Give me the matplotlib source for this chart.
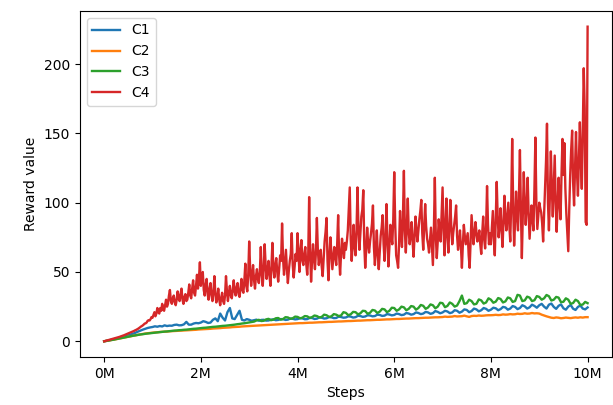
import numpy as np
import matplotlib
matplotlib.use("Agg")
import matplotlib.pyplot as plt

# rewards; steps in millions (0.05M apart for C1-C3, 0.02M for C4)
c1 = [0, 0.3, 0.7, 1.1, 1.5, 1.9, 2.3, 2.7, 3.2, 3.7,
      4.3, 4.9, 5.5, 6.2, 7.0, 7.7, 8.4, 9.0, 9.6, 10.0,
      10.3, 10.8, 10.5, 11.0, 10.7, 11.5, 11.0, 11.3, 11.2, 11.8,
      12.0, 11.5, 11.6, 12.2, 14.0, 12.0, 12.0, 12.8, 13.2, 13.0,
      13.5, 14.5, 14.0, 13.2, 13.5, 15.5, 16.5, 14.5, 20.0, 17.0,
      15.0, 21.0, 24.0, 16.5, 16.0, 19.0, 22.0, 15.5, 15.0, 16.0,
      15.5, 14.8, 15.2, 15.6, 14.8, 15.4, 15.5, 14.9, 15.0, 15.6,
      15.8, 15.2, 15.4, 16.0, 16.0, 15.4, 15.6, 16.4, 16.2, 15.8,
      16.0, 16.6, 16.5, 15.9, 16.0, 16.8, 16.8, 16.1, 16.3, 17.2,
      17.0, 16.4, 16.6, 17.4, 17.3, 16.7, 16.8, 17.8, 17.5, 17.0,
      17.2, 18.0, 17.8, 17.1, 17.4, 18.4, 18.2, 17.6, 17.9, 18.8,
      18.6, 18.0, 18.2, 19.2, 19.0, 18.3, 18.5, 19.6, 19.3, 18.7,
      19.0, 20.0, 19.6, 18.9, 19.2, 20.4, 20.0, 19.2, 19.6, 20.8,
      20.4, 19.6, 20.0, 21.2, 20.8, 19.8, 20.3, 21.8, 21.2, 20.2,
      20.8, 22.0, 21.5, 20.3, 20.8, 22.4, 22.0, 20.6, 21.4, 23.0,
      22.6, 21.0, 21.8, 23.6, 23.0, 21.6, 22.4, 24.0, 23.4, 22.0,
      22.8, 24.2, 23.8, 22.4, 23.2, 24.8, 24.4, 22.8, 23.6, 25.4,
      24.8, 23.2, 24.0, 26.0, 25.2, 23.6, 24.5, 26.4, 25.5, 24.2,
      26.0, 27.0, 25.0, 23.6, 26.4, 27.2, 24.8, 23.4, 25.6, 26.6,
      23.8, 22.8, 25.0, 26.2, 23.5, 22.6, 24.8, 25.8, 23.6, 23.0,
      24.4]

c2 = [0, 0.3, 0.6, 0.9, 1.2, 1.5, 1.9, 2.2, 2.6, 2.9,
      3.3, 3.6, 4.0, 4.3, 4.7, 5.0, 5.3, 5.6, 5.8, 6.0,
      6.2, 6.4, 6.5, 6.7, 6.8, 6.9, 7.0, 7.2, 7.3, 7.4,
      7.5, 7.6, 7.7, 7.8, 7.9, 8.0, 8.1, 8.2, 8.3, 8.5,
      8.6, 8.7, 8.8, 8.9, 9.0, 9.2, 9.3, 9.4, 9.5, 9.7,
      9.8, 9.9, 10.0, 10.2, 10.3, 10.4, 10.5, 10.7, 10.8, 10.9,
      11.0, 11.1, 11.2, 11.3, 11.4, 11.5, 11.6, 11.7, 11.8, 11.9,
      12.0, 12.1, 12.2, 12.3, 12.4, 12.5, 12.6, 12.7, 12.8, 12.9,
      13.0, 13.1, 13.1, 13.2, 13.3, 13.4, 13.4, 13.5, 13.6, 13.7,
      13.7, 13.8, 13.9, 14.0, 14.0, 14.1, 14.2, 14.3, 14.3, 14.4,
      14.5, 14.6, 14.6, 14.7, 14.8, 14.9, 14.9, 15.0, 15.1, 15.2,
      15.2, 15.3, 15.4, 15.5, 15.5, 15.6, 15.7, 15.8, 15.8, 15.9,
      16.0, 16.1, 16.1, 16.2, 16.3, 16.4, 16.4, 16.5, 16.6, 16.7,
      16.7, 16.8, 16.9, 17.0, 17.0, 17.1, 17.2, 17.3, 17.3, 17.4,
      17.5, 17.8, 17.6, 17.7, 17.8, 18.2, 17.9, 18.0, 18.1, 18.5,
      18.0, 17.6, 18.2, 18.4, 18.3, 18.6, 18.4, 18.5, 18.7, 18.8,
      18.8, 18.9, 19.1, 18.9, 19.0, 19.4, 19.2, 19.3, 19.6, 19.4,
      19.5, 19.9, 19.7, 19.8, 20.2, 19.9, 20.0, 20.4, 20.1, 20.2,
      20.0, 19.2, 18.6, 18.0, 17.5, 17.0, 16.8, 17.2, 17.0, 16.6,
      16.8, 17.1, 16.9, 16.7, 17.0, 17.2, 17.0, 17.3, 17.1, 17.4,
      17.4]

c3 = [0, 0.3, 0.6, 0.9, 1.2, 1.6, 1.9, 2.3, 2.6, 3.0,
      3.3, 3.7, 4.0, 4.3, 4.6, 4.9, 5.1, 5.4, 5.6, 5.8,
      6.0, 6.2, 6.4, 6.6, 6.8, 7.0, 7.1, 7.3, 7.5, 7.7,
      7.8, 8.0, 8.1, 8.3, 8.4, 8.6, 8.8, 9.0, 9.1, 9.3,
      9.5, 9.7, 9.8, 10.0, 10.2, 10.4, 10.5, 10.7, 10.9, 11.1,
      11.2, 11.4, 11.6, 11.8, 12.0, 12.3, 12.5, 12.8, 13.0, 13.3,
      13.6, 13.9, 14.2, 15.0, 15.5, 14.6, 14.8, 15.8, 16.2, 15.2,
      15.6, 16.6, 16.8, 15.6, 16.0, 17.4, 17.2, 16.2, 16.6, 17.8,
      17.6, 16.6, 17.0, 18.2, 18.0, 16.9, 17.4, 18.6, 18.2, 17.2,
      17.6, 19.2, 18.8, 17.6, 18.0, 19.6, 19.2, 18.2, 18.6, 21.0,
      20.5, 18.8, 19.5, 21.2, 21.0, 19.4, 20.2, 22.0, 21.8, 19.8,
      20.6, 22.6, 22.2, 20.4, 21.4, 23.4, 23.0, 21.0, 22.0, 24.2,
      24.0, 22.0, 23.0, 25.0, 24.5, 22.4, 23.4, 25.4, 25.0, 22.8,
      24.0, 26.2, 25.6, 23.4, 24.4, 26.6, 26.0, 23.8, 25.0, 27.8,
      27.5, 24.6, 25.5, 28.0, 27.0, 25.0, 25.8, 29.0, 33.0, 27.0,
      27.5, 30.0, 29.0, 26.6, 27.0, 30.2, 29.5, 27.2, 28.0, 31.0,
      30.0, 27.8, 28.6, 31.2, 30.5, 28.0, 28.8, 31.6, 31.0, 28.4,
      29.0, 33.5, 33.0, 29.0, 29.5, 32.2, 31.5, 29.0, 29.6, 32.6,
      32.0, 30.0, 31.0, 33.4, 32.5, 29.4, 30.0, 32.0, 31.5, 28.2,
      28.5, 31.0, 30.0, 27.0, 27.6, 30.0, 29.0, 26.2, 26.5, 28.4,
      27.5]

c4 = [0, 0.2, 0.4, 0.6, 0.8, 1.0, 1.2, 1.4, 1.6, 1.8,
      2.0, 2.2, 2.4, 2.6, 2.8, 3.0, 3.2, 3.5, 3.7, 4.0,
      4.2, 4.5, 4.8, 5.1, 5.4, 5.7, 6.0, 6.3, 6.6, 6.9,
      7.2, 7.5, 7.9, 8.2, 8.6, 9.0, 9.5, 10.0, 10.6, 11.0,
      11.5, 12.2, 12.8, 13.0, 13.6, 14.8, 15.2, 15.0, 16.0, 17.5,
      17, 19, 21, 18, 20, 24, 21, 20, 24, 22,
      27, 23, 22, 26, 30, 25, 27, 33, 37, 29,
      27, 31, 33, 28, 26, 30, 36, 31, 29, 34,
      38, 30, 27, 32, 34, 29, 30, 35, 41, 33,
      31, 38, 44, 35, 33, 40, 48, 38, 45, 57,
      40, 46, 50, 37, 33, 41, 45, 34, 30, 38,
      42, 33, 29, 36, 47, 34, 28, 32, 38, 30,
      26, 31, 35, 29, 27, 33, 47, 36, 29, 35,
      40, 33, 31, 37, 44, 36, 33, 39, 42, 34,
      32, 38, 45, 37, 35, 44, 56, 40, 36, 48,
      72, 52, 40, 48, 55, 44, 38, 47, 52, 45,
      42, 50, 68, 49, 40, 52, 70, 55, 45, 51,
      58, 47, 40, 54, 71, 53, 46, 55, 60, 50,
      43, 52, 62, 58, 85, 60, 48, 57, 66, 52,
      42, 51, 58, 63, 78, 55, 46, 54, 63, 58,
      78, 62, 50, 66, 73, 58, 55, 63, 68, 56,
      48, 60, 104, 65, 43, 58, 70, 60, 52, 64,
      89, 66, 55, 62, 66, 54, 47, 60, 72, 79,
      89, 58, 44, 62, 75, 63, 52, 60, 68, 61,
      55, 70, 91, 62, 48, 63, 74, 66, 60, 71,
      66, 72, 80, 95, 111, 74, 58, 70, 84, 68,
      62, 80, 111, 82, 66, 78, 90, 95, 109, 70,
      53, 66, 82, 71, 64, 72, 78, 85, 98, 68,
      55, 67, 80, 62, 52, 64, 76, 82, 91, 70,
      58, 75, 99, 72, 54, 68, 84, 76, 70, 88,
      122, 85, 62, 58, 53, 70, 94, 78, 68, 90,
      123, 80, 64, 82, 103, 79, 70, 77, 86, 72,
      61, 75, 90, 80, 72, 80, 88, 94, 102, 78,
      66, 82, 99, 83, 74, 70, 64, 73, 82, 68,
      55, 80, 118, 76, 60, 72, 88, 79, 72, 92,
      111, 80, 62, 85, 103, 75, 64, 82, 102, 83,
      70, 78, 84, 90, 98, 76, 66, 72, 80, 68,
      53, 70, 84, 76, 70, 74, 78, 62, 53, 72,
      91, 80, 70, 77, 86, 79, 72, 75, 80, 70,
      63, 78, 90, 74, 67, 82, 112, 84, 70, 78,
      70, 82, 94, 75, 62, 88, 115, 90, 75, 84,
      96, 80, 68, 86, 105, 88, 80, 90, 100, 84,
      72, 100, 146, 98, 69, 86, 108, 92, 80, 105,
      138, 95, 60, 90, 122, 100, 84, 98, 118, 92,
      74, 86, 98, 88, 80, 110, 147, 100, 81, 90,
      100, 96, 93, 85, 72, 92, 110, 130, 157, 100,
      80, 105, 137, 110, 90, 112, 134, 100, 79, 98,
      118, 100, 88, 120, 146, 120, 143, 110, 92, 78,
      65, 95, 120, 138, 152, 115, 98, 125, 151, 122,
      105, 130, 158, 130, 110, 150, 197, 168, 86, 84,
      227]

steps = np.linspace(0, 10, len(c1))
steps_c4 = np.linspace(0, 10, len(c4))

fig = plt.figure(figsize=(6.13, 4.05), dpi=100)
ax = fig.add_axes([0.1305, 0.1185, 0.8675, 0.8545])

ax.plot(steps, c1, label="C1", lw=1.7)
ax.plot(steps, c2, label="C2", lw=1.7)
ax.plot(steps, c3, label="C3", lw=1.7)
ax.plot(steps_c4, c4, label="C4", lw=1.7)

ax.set_xticks([0, 2, 4, 6, 8, 10])
ax.set_xticklabels(["0M", "2M", "4M", "6M", "8M", "10M"])
ax.set_xlabel("Steps")
ax.set_ylabel("Reward value")
ax.legend(loc="upper left")

plt.savefig("out.png")
